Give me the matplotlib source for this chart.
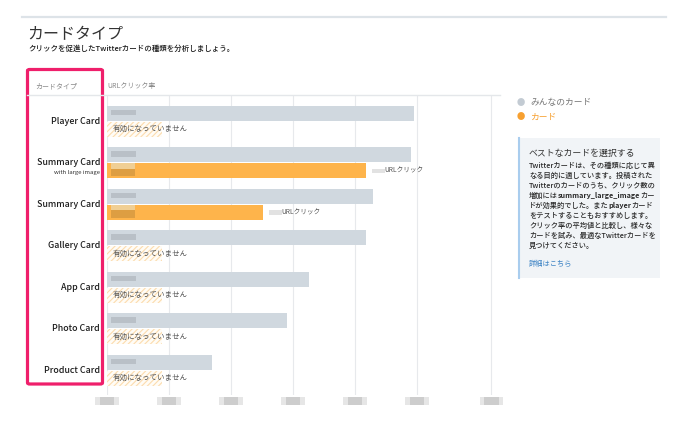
import matplotlib
matplotlib.use("Agg")
import matplotlib.pyplot as plt
from matplotlib.patches import Rectangle, FancyBboxPatch
from matplotlib.lines import Line2D

plt.rcParams['font.family'] = ['Noto Sans CJK JP', 'DejaVu Sans']
plt.rcParams['hatch.linewidth'] = 0.8

cards = ["Player Card", "Summary Card", "Summary Card", "Gallery Card",
         "App Card", "Photo Card", "Product Card"]
subs = ["", "with large image", "", "", "", "", ""]
everyone = [4.95, 4.90, 4.29, 4.18, 3.26, 2.90, 1.69]
yours = [None, 4.18, 2.52, None, None, None, None]
ticks = [0, 1, 2, 3, 4, 5, 6.2]

W, H = 699, 425
fig = plt.figure(figsize=(W / 100, H / 100), dpi=100)


def fx(x):
    return x / W


def fy(y):
    return 1 - y / H


def ftext(x, y, s, **kw):
    return fig.text(fx(x), fy(y), s, **kw)


# page header
fig.add_artist(Line2D([fx(22), fx(666)], [fy(17), fy(17)], color="#dde3e8", lw=1.6))
ftext(27, 35, "カードタイプ", fontsize=11.5, color="#333333", va="center")
ftext(28, 49, "クリックを促進したTwitterカードの種類を分析しましょう。",
      fontsize=5.4, color="#1a1a1a", va="center", fontweight="medium")

# bar area
ax = fig.add_axes([fx(107), fy(395), (500 - 107) / W, (395 - 95) / H])
ax.set_xlim(0, (500 - 107) / 62)
ax.set_ylim(6.60, -0.627)
ax.set_xticks(ticks)
ax.set_yticks([])
ax.tick_params(axis="x", length=0, labelbottom=False)
ax.grid(axis="x", color="#e7e9ec", lw=0.8)
ax.set_axisbelow(True)
for sp in ax.spines.values():
    sp.set_visible(False)

ypos = list(range(len(cards)))
h = 0.36
ax.barh([y - 0.19 for y in ypos], everyone, height=h, color="#d0d8df")

for i, v in enumerate(yours):
    if v is None:
        ax.barh(i + 0.2, 0.89, height=h, color="#fffcf6", edgecolor="#fcdcae",
                hatch="//////", lw=0)
        ax.text(0.1, i + 0.2, "有効になっていません", fontsize=5.4,
                color="#555555", va="center")
    else:
        ax.barh(i + 0.2, v, height=h, color="#feb44b")
        # blurred value inside the orange bar
        ax.add_patch(Rectangle((0.07, i + 0.02), 0.38, 0.13, color="#f0cf94", lw=0))
        ax.add_patch(Rectangle((0.07, i + 0.15), 0.38, 0.18, color="#cf953f",
                               alpha=0.7, lw=0))
        ax.add_patch(Rectangle((v + 0.1, i + 0.15), 0.2, 0.11, color="#e2e2e2", lw=0))
        ax.text(v + 0.3, i + 0.2, "URLクリック", fontsize=4.8,
                color="#555555", va="center")

# blurred values inside the grey bars
for i in ypos:
    ax.add_patch(Rectangle((0.07, i - 0.27), 0.4, 0.13, color="#aab1b8",
                           alpha=0.6, lw=0))

# blurred tick labels
tr = ax.get_xaxis_transform()
for t in ticks:
    ax.add_patch(Rectangle((t - 0.19, -0.034), 0.38, 0.028, transform=tr,
                           clip_on=False, color="#e6e6e6", lw=0))
    ax.add_patch(Rectangle((t - 0.12, -0.034), 0.24, 0.028, transform=tr,
                           clip_on=False, color="#cdcdcd", lw=0))

# category labels
ytr = ax.get_yaxis_transform()
for i, (c, s) in enumerate(zip(cards, subs)):
    ax.text(-0.018, i, c, transform=ytr, ha="right", va="center",
            fontsize=6.4, color="#1e1e1e", fontweight="medium")
    if s:
        ax.text(-0.018, i + 0.25, s, transform=ytr, ha="right", va="center",
                fontsize=4.3, color="#333333")

# column header
fig.add_artist(Line2D([fx(27), fx(500)], [fy(95), fy(95)], color="#e4e7ea", lw=1.0))
ftext(35, 86, "カードタイプ", fontsize=5.0, color="#888888", va="center")
ftext(107, 86, "URLクリック率", fontsize=5.0, color="#888888", va="center")

# highlight frame
fig.add_artist(FancyBboxPatch((fx(27.5), fy(384)), fx(102.5) - fx(27.5),
                              fy(69.5) - fy(384),
                              boxstyle="round,pad=0,rounding_size=0.003",
                              transform=fig.transFigure, fill=False,
                              edgecolor="#ef1f6b", lw=2.3))

# legend
ftext(521, 103, "●", fontsize=6, color="#c3cbd3", va="center", ha="center")
ftext(530, 103, "みんなのカード", fontsize=6.3, color="#777777", va="center")
ftext(521, 117, "●", fontsize=6, color="#f7a030", va="center", ha="center")
ftext(530, 117, "カード", fontsize=6.3, color="#f7a030", va="center")

# info box
fig.add_artist(Rectangle((fx(518), fy(278)), fx(660) - fx(518), fy(138) - fy(278),
                         transform=fig.transFigure, color="#f1f4f7", lw=0))
fig.add_artist(Line2D([fx(518.5), fx(518.5)], [fy(138), fy(278)],
                      color="#a9cdee", lw=1.5))
ftext(529, 153, "ベストなカードを選択する", fontsize=6.4, color="#333333", va="center")

renderer = fig.canvas.get_renderer()


def runs(x, y, parts):
    x = fx(x)
    for s, w in parts:
        t = fig.text(x, fy(y), s, fontsize=5.2, color="#2a2a2a",
                     fontweight=w, va="center")
        x += t.get_window_extent(renderer).width / fig.bbox.width


body = [
    [("Twitterカードは、その種類に応じて異", "medium")],
    [("なる目的に適しています。投稿された", "medium")],
    [("Twitterのカードのうち、クリック数の", "medium")],
    [("増加には", "medium"), ("summary_large_image", "bold"), ("カー", "medium")],
    [("ドが効果的でした。また", "medium"), ("player", "bold"), ("カード", "medium")],
    [("をテストすることもおすすめします。", "medium")],
    [("クリック率の平均値と比較し、様々な", "medium")],
    [("カードを試み、最適なTwitterカードを", "medium")],
    [("見つけてください。", "medium")],
]
for k, parts in enumerate(body):
    runs(529, 165.7 + 10 * k, parts)
ftext(529, 264, "詳細はこちら", fontsize=5.2, color="#3b82c4", va="center")

fig.savefig("out.png", dpi=100)
